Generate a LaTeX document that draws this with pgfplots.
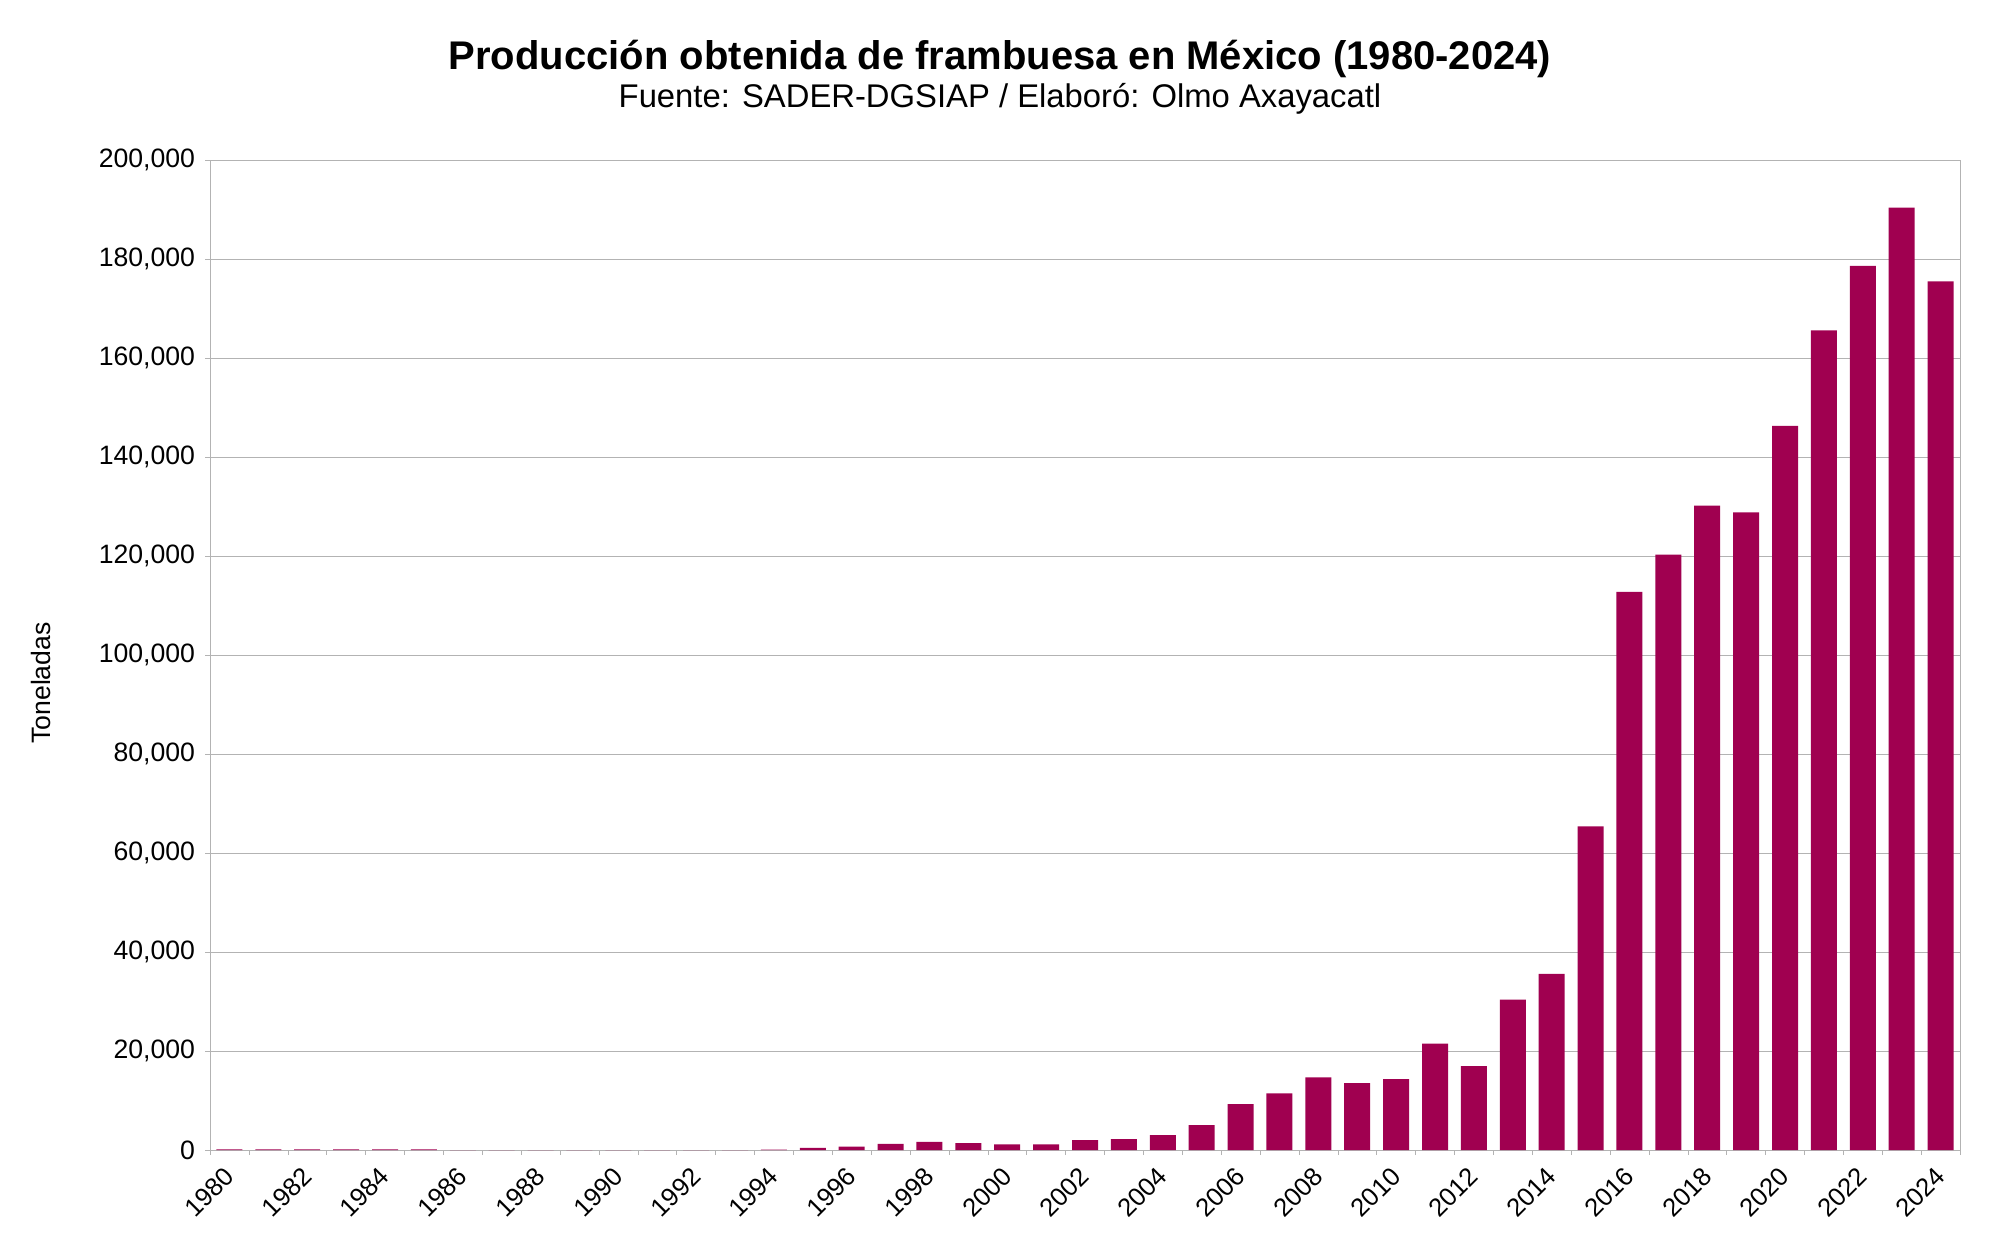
\documentclass[border=0pt]{standalone}
\usepackage{pgfplots}
\pgfplotsset{compat=1.18}
\usepackage{fontspec}
\setmainfont{Liberation Sans}
\definecolor{barcol}{RGB}{160,0,80}
\definecolor{gridcol}{RGB}{179,179,179}
\begin{document}
\begin{tikzpicture}
\begin{axis}[
  at={(105pt,49.5pt)}, anchor=south west,
  scale only axis, width=875pt, height=495pt,
  xmin=-0.5, xmax=44.5, ymin=0, ymax=200000,
  ybar, bar width=13pt,
  axis line style={gridcol},
  xtick pos=bottom, ytick pos=left,
  xtick={0,2,...,44},
  xticklabels={1980,1982,1984,1986,1988,1990,1992,1994,1996,1998,2000,2002,2004,2006,2008,2010,2012,2014,2016,2018,2020,2022,2024},
  minor xtick={-0.5,0.5,...,44.5},
  major x tick style={draw=none},
  minor x tick style={gridcol},
  ytick={0,20000,...,200000},
  yticklabels={0,{20,000},{40,000},{60,000},{80,000},{100,000},{120,000},{140,000},{160,000},{180,000},{200,000}},
  y tick style={gridcol},
  tick align=outside,
  major tick length=2.5pt, minor tick length=2.5pt,
  ymajorgrids, grid style={gridcol},
  scaled y ticks=false,
  yticklabel style={font=\fontsize{13.3}{15}\selectfont, xshift=-1.5pt},
  xticklabel style={font=\fontsize{12.8}{15}\selectfont, xshift=-3.3pt, yshift=-3.7pt, rotate=45, anchor=north east, inner sep=1pt},
  clip=false,
]
\addplot[fill=barcol, draw=none] coordinates {
(0,150) (1,150) (2,150) (3,150) (4,150) (5,150)
(6,0) (7,0) (8,0) (9,0) (10,0) (11,0) (12,0) (13,0)
(14,60) (15,420) (16,680) (17,1230) (18,1620) (19,1400)
(20,1150) (21,1150) (22,2020) (23,2220) (24,3030) (25,5050)
(26,9290) (27,11450) (28,14680) (29,13530) (30,14340)
(31,21470) (32,16970) (33,30360) (34,35560) (35,65390)
(36,112730) (37,120270) (38,130200) (39,128800) (40,146300)
(41,165600) (42,178600) (43,190400) (44,175500)
};
\end{axis}
\node[font=\fontsize{20}{24}\selectfont\bfseries] at (500pt,595.2pt) {Producción obtenida de frambuesa en México (1980-2024)};
\node[font=\fontsize{16.4}{20}\selectfont] at (500pt,575.2pt) {Fuente: SADER-DGSIAP / Elaboró: Olmo Axayacatl};
\node[rotate=90, font=\fontsize{13.3}{15}\selectfont] at (20.5pt,283pt) {Toneladas};
\pgfresetboundingbox
\path[use as bounding box] (0,0) rectangle (1000pt,624.5pt);
\end{tikzpicture}
\end{document}
